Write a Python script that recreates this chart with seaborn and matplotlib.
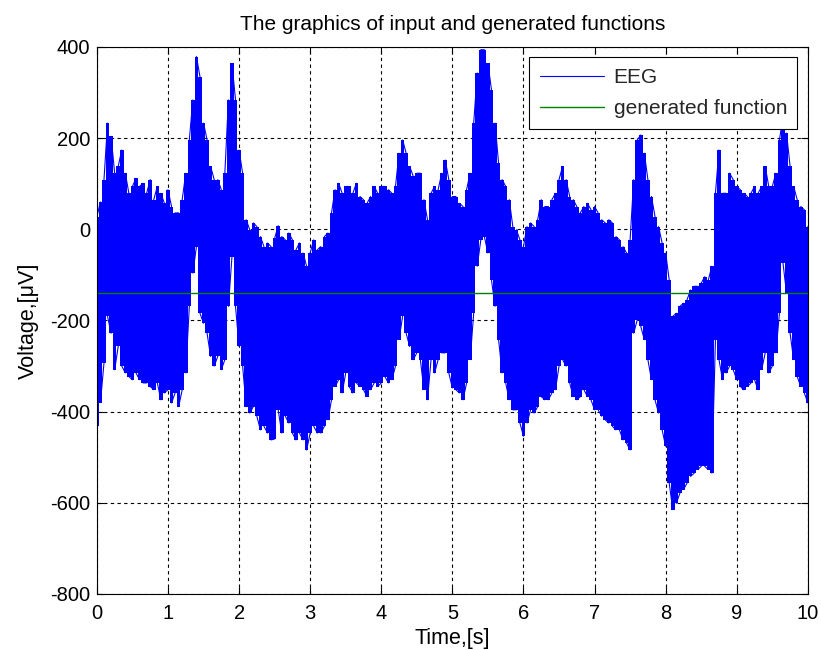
import numpy as np
import pandas as pd
import matplotlib
matplotlib.use("Agg")
import matplotlib.pyplot as plt
import seaborn as sns

# ---- data (envelope of the EEG trace, every 0.05 s) ----
time_s = np.linspace(0, 10, 201)
eeg_upper = [
    28, 60, 109, 233, 204, 123, 138, 174, 123, 79, 94, 112, 94, 101, 79, 109, 65, 94, 79, 57,
    87, 50, 36, 36, 65, 123, 196, 284, 379, 335, 233, 196, 138, 109, 109, 87, 123, 284, 364, 284,
    174, 123, 21, -1, 14, 6, -16, -38, -30, -38, -20, 8, -16, -23, -8, -23, -45, -30, -52, -81,
    -52, -23, -45, -38, -16, -8, 36, 87, 101, 79, 94, 94, 79, 101, 72, 65, 57, 72, 94, 79,
    94, 94, 87, 79, 94, 167, 196, 167, 138, 116, 123, 123, 65, 21, 79, 94, 87, 123, 152, 109,
    72, 72, 57, 50, 87, 123, 233, 343, 394, 394, 364, 306, 233, 145, 109, 94, 65, 6, -1, -23,
    -38, 6, 14, 6, 21, 65, 50, 50, 65, 79, 109, 138, 109, 72, 65, 50, 36, 50, 57, 43,
    50, 36, 21, 14, 21, 14, -16, -23, -38, -52, -23, 109, 196, 207, 167, 109, 72, 28, 6, -30,
    -52, -111, -191, -184, -169, -162, -155, -133, -125, -125, -118, -104, -111, -81, 79, 174, 79, 79, 123, 109,
    94, 87, 79, 72, 79, 94, 79, 94, 138, 94, 94, 123, 196, 245, 211, 138, 94, 65, 50, 43,
    6,
]
eeg_lower = [
    -432, -380, -293, -191, -228, -308, -257, -300, -315, -323, -330, -315, -330, -337, -337, -345, -352, -337, -374, -359,
    -352, -381, -359, -389, -352, -315, -169, -96, -38, -184, -206, -228, -279, -300, -279, -308, -286, -169, -60, -169,
    -257, -300, -389, -403, -389, -410, -440, -432, -447, -462, -460, -396, -447, -410, -425, -447, -462, -447, -462, -484,
    -447, -432, -447, -447, -432, -418, -374, -345, -330, -359, -315, -345, -359, -337, -345, -352, -367, -352, -337, -345,
    -337, -323, -337, -330, -300, -242, -191, -228, -257, -286, -271, -286, -352, -374, -286, -315, -286, -271, -271, -315,
    -348, -352, -359, -374, -337, -286, -184, -81, -23, -16, -52, -111, -169, -242, -315, -337, -374, -396, -396, -425,
    -454, -425, -396, -403, -389, -367, -374, -374, -359, -352, -300, -286, -300, -337, -367, -374, -367, -352, -367, -374,
    -396, -396, -410, -418, -425, -432, -440, -440, -462, -469, -484, -228, -199, -213, -242, -286, -330, -374, -403, -440,
    -476, -557, -615, -601, -579, -571, -557, -542, -535, -527, -520, -520, -527, -535, -242, -286, -330, -315, -300, -308,
    -330, -345, -352, -345, -337, -330, -352, -308, -271, -315, -300, -271, -184, -74, -140, -228, -286, -323, -345, -359,
    -381,
]
generated_level = -140.0
x_ticks = [0, 1, 2, 3, 4, 5, 6, 7, 8, 9, 10]
y_ticks = [-800, -600, -400, -200, 0, 200, 400]

title_text = "The graphics of input and generated functions"
xlabel_text = "Time,[s]"
ylabel_text = "Voltage,[\u03bcV]"
series_names = ["EEG", "generated function"]

# ---- build the trace: alternate between the read envelope values ----
tt, yy = [], []
for i, (t, lo, up) in enumerate(zip(time_s, eeg_lower, eeg_upper)):
    pair = (lo, up) if i % 2 == 0 else (up, lo)
    tt += [t, t]
    yy += list(pair)
eeg_df = pd.DataFrame({"t": tt, "v": yy})
gen_df = pd.DataFrame({"t": [time_s[0], time_s[-1]], "v": [generated_level, generated_level]})

sns.set_theme(style="white")
plt.rcParams["font.family"] = ["Liberation Sans", "DejaVu Sans"]

fig = plt.figure(figsize=(8.21, 6.5), dpi=100)
ax = fig.add_axes([0.118, 0.0862, 0.866, 0.8415])

ax.fill_between(time_s, eeg_lower, eeg_upper, step="mid", color="#0000FF", linewidth=0)
sns.lineplot(data=eeg_df, x="t", y="v", sort=False, estimator=None, color="#0000FF",
             linewidth=0.8, ax=ax, label=series_names[0])
sns.lineplot(data=gen_df, x="t", y="v", sort=False, estimator=None, color="#008000",
             linewidth=1.0, ax=ax, label=series_names[1])

ax.set_xlim(0, 10)
ax.set_ylim(-800, 400)
ax.set_xticks(x_ticks)
ax.set_yticks(y_ticks)
ax.set_xticklabels([str(v) for v in x_ticks])
ax.set_yticklabels([str(v) for v in y_ticks])
ax.tick_params(axis="both", which="both", direction="in", length=5, width=0.8,
               top=True, right=True, bottom=True, left=True, labelsize=14.5, colors="black")
ax.tick_params(axis="x", pad=7)
ax.tick_params(axis="y", pad=5)
ax.grid(True, color="black", linestyle=(0, (3, 3)), linewidth=0.8)
for s in ax.spines.values():
    s.set_color("black")
    s.set_linewidth(0.8)
    s.set_visible(True)

ax.set_title(title_text, fontsize=15, color="black", pad=12)
ax.set_xlabel(xlabel_text, fontsize=15.5, color="black", labelpad=4)
ax.set_ylabel(ylabel_text, fontsize=15.5, color="black", labelpad=8)

leg = ax.legend(loc="upper right", fontsize=15, frameon=True, fancybox=False, shadow=False,
                borderaxespad=0.5, handlelength=3.1, handletextpad=0.45, labelspacing=0.6,
                borderpad=0.5)
leg.get_frame().set_edgecolor("black")
leg.get_frame().set_linewidth(0.8)
leg.get_frame().set_facecolor("white")
leg.get_frame().set_alpha(1.0)

fig.savefig("out.png", dpi=100)
